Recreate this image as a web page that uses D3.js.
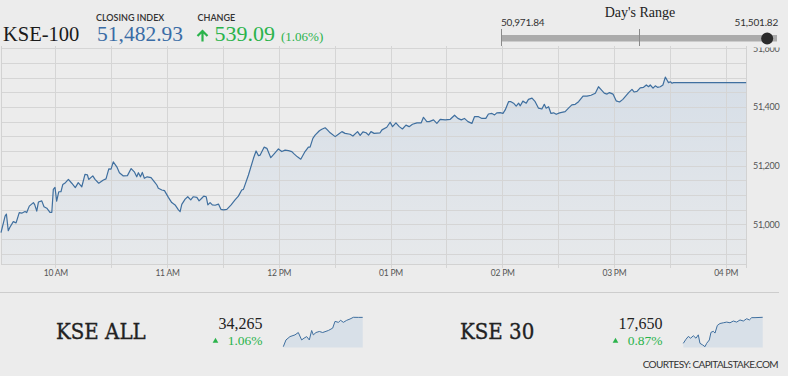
<!DOCTYPE html>
<html>
<head>
<meta charset="utf-8">
<script src="https://cdn.jsdelivr.net/npm/d3@7"></script>
<style>
  body { margin: 0; background: #ececec; }
  svg { display: block; }
</style>
</head>
<body>
<div id="graphic"></div>
<script>
// minutes after the 09:30 open, KSE-100 level
const mins = [0.8, 3.0, 3.7, 4.7, 5.6, 7.4, 8.9, 10.6, 11.9, 13.7, 14.6, 16.0, 18.2, 18.9, 20.0, 20.9, 22.7, 23.9, 25.4, 27.1,
  28.1, 28.9, 29.8, 30.7, 31.8, 33.0, 34.0, 35.4, 37.0, 38.8, 40.7, 42.3, 44.2, 45.9, 47.2, 47.9, 50.1, 51.3, 53.3, 55.8,
  57.2, 58.7, 59.9, 61.1, 63.0, 64.4, 66.5, 68.7, 70.7, 72.4, 73.7, 74.6, 75.7, 76.7, 77.8, 79.3, 81.4, 83.2, 84.5, 85.3,
  87.2, 88.6, 90.7, 92.5, 94.3, 96.1, 97.0, 97.9, 99.7, 101.1, 102.7, 104.1, 106.0, 107.2, 108.6, 109.7, 111.0, 111.9, 113.1, 114.3,
  115.8, 117.6, 118.9, 120.3, 122.1, 124.4, 126.5, 128.3, 130.1, 131.0, 133.7, 136.4, 137.8, 139.1, 140.0, 142.1, 143.6, 145.7, 147.5, 149.8,
  151.6, 153.4, 155.2, 157.0, 158.2, 160.0, 161.8, 164.1, 165.9, 166.8, 168.3, 169.5, 171.8, 173.1, 174.9, 176.1, 177.6, 180.3, 182.0, 183.9,
  185.6, 188.3, 189.8, 192.3, 193.7, 195.2, 196.9, 198.2, 199.5, 201.2, 204.4, 205.4, 208.0, 209.8, 211.1, 212.9, 214.7, 216.4, 218.3, 220.0,
  221.8, 224.2, 226.5, 227.7, 229.5, 230.8, 233.1, 234.9, 236.7, 239.4, 242.1, 244.4, 246.2, 248.0, 249.7, 251.6, 253.7, 255.1, 257.3, 259.1,
  261.2, 262.6, 264.5, 265.9, 267.1, 268.9, 270.4, 271.6, 273.4, 274.7, 276.1, 277.5, 278.8, 279.7, 281.1, 282.9, 284.1, 286.0, 287.7, 289.5,
  291.3, 292.6, 293.6, 294.9, 296.2, 297.6, 299.0, 300.8, 303.8, 305.6, 307.4, 309.2, 311.0, 313.4, 315.5, 317.7, 320.0, 321.7, 323.0, 324.8,
  326.3, 327.6, 329.5, 331.2, 333.0, 334.8, 337.9, 339.7, 340.9, 342.4, 344.1, 345.9, 347.4, 348.6, 349.5, 351.0, 352.2, 353.4, 354.9, 356.3,
  357.6, 358.5, 359.3, 360.3, 361.2, 362.0, 401.0];
const kse100 = [50971.8, 51028, 51035, 50978, 50990, 51009, 51005, 51040, 51038, 51044, 51040, 51062, 51074, 51067, 51045, 51076, 51080, 51060, 51055, 51041,
  51041, 51119, 51126, 51079, 51111, 51111, 51136, 51142, 51153, 51140, 51125, 51142, 51128, 51170, 51169, 51153, 51165, 51153, 51140, 51151,
  51155, 51189, 51188, 51213, 51196, 51176, 51165, 51166, 51190, 51179, 51162, 51176, 51162, 51177, 51157, 51162, 51159, 51145, 51134, 51123,
  51117, 51115, 51092, 51074, 51066, 51049, 51043, 51068, 51086, 51094, 51083, 51094, 51092, 51080, 51089, 51096, 51094, 51066, 51074, 51066,
  51065, 51069, 51051, 51049, 51051, 51066, 51083, 51096, 51117, 51119, 51168, 51225, 51250, 51234, 51236, 51263, 51259, 51227, 51240, 51257,
  51248, 51253, 51251, 51248, 51240, 51230, 51222, 51248, 51263, 51263, 51293, 51304, 51319, 51324, 51329, 51322, 51312, 51299, 51307, 51316,
  51310, 51307, 51301, 51316, 51303, 51315, 51312, 51304, 51316, 51310, 51312, 51322, 51331, 51348, 51333, 51346, 51333, 51325, 51338, 51333,
  51341, 51346, 51346, 51365, 51350, 51350, 51356, 51344, 51358, 51356, 51358, 51372, 51361, 51356, 51361, 51350, 51344, 51367, 51367, 51361,
  51361, 51376, 51378, 51373, 51380, 51381, 51378, 51390, 51418, 51418, 51413, 51403, 51413, 51404, 51420, 51413, 51426, 51430, 51418, 51396,
  51393, 51409, 51396, 51401, 51378, 51380, 51375, 51380, 51384, 51396, 51407, 51409, 51418, 51437, 51437, 51440, 51447, 51469, 51460, 51447,
  51444, 51449, 51444, 51421, 51417, 51426, 51449, 51460, 51451, 51453, 51465, 51467, 51475, 51469, 51475, 51464, 51472, 51467, 51469, 51475,
  51501.8, 51492, 51483, 51486, 51481, 51482.93, 51482.93];

const yTicks = [51000, 51200, 51400, 51600];

// sparklines (same minutes-after-open base)
const kseAllMins = [0, 13.5, 33.7, 59, 75.8, 92.7, 104.5, 118, 131.4, 143.2, 151.6, 165.1, 182, 198.8, 227.5, 249.4, 261.2, 278, 289.8, 303.3, 320.1, 337, 353.8, 379, 401];
const kseAllVals = [33905, 33988, 34029, 34050, 34079, 33988, 34009, 34029, 33988, 34104, 34050, 34079, 34092, 34079, 34104, 34133, 34216, 34204, 34229, 34204, 34229, 34245, 34266, 34265, 34265];
const kse30Mins = [0, 13.5, 25.3, 37.1, 50.5, 64, 75.8, 84.2, 97.7, 109.5, 118, 131.4, 139.8, 151.6, 160.1, 171.9, 185.3, 202.2, 219, 235.9, 252.7, 269.6, 286.4, 303.3, 320.1, 333.6, 345.4, 362.2, 401];
const kse30Vals = [17503, 17526, 17542, 17532, 17546, 17532, 17551, 17503, 17494, 17484, 17503, 17522, 17565, 17571, 17561, 17604, 17615, 17619, 17623, 17619, 17629, 17623, 17635, 17629, 17642, 17635, 17648, 17648, 17650];

const dayLow = 50971.84, dayHigh = 51501.82, closeIdx = 51482.93;

const open = new Date(2017, 0, 2, 9, 30).getTime();
const toDate = m => new Date(open + m * 60000);

const W = 788, H = 376;
const serif = "'Liberation Serif', serif";
const sans = "Lato, 'Open Sans', sans-serif";
const blueLine = "#3f6f9f";

const svg = d3.select("#graphic").append("svg")
    .attr("width", W)
    .attr("height", H);

const defs = svg.append("defs");
const grad = defs.append("linearGradient")
    .attr("id", "areaGrad")
    .attr("x1", 0).attr("y1", 0).attr("x2", 0).attr("y2", 1);
grad.append("stop").attr("offset", "0%").attr("stop-color", "#d6dee7");
grad.append("stop").attr("offset", "100%").attr("stop-color", "#e7e9eb");

// clip is in the axis group's own coords (group sits at x=747)
defs.append("clipPath").attr("id", "yclip")
    .append("rect").attr("x", -5).attr("y", 47.5).attr("width", 45).attr("height", 240);

// ---------- main chart ----------
const plotTop = 46, plotBottom = 264;
const x = d3.scaleTime()
    .domain([toDate(0.8), toDate(401.2)])
    .range([1, 746.5]);
const y = d3.scaleLinear()
    .domain([50864.7, 51607.9])
    .range([plotBottom, plotTop]);

const data = mins.map((m, i) => ({t: toDate(m), v: kse100[i]}));

const area = d3.area()
    .x(d => x(d.t))
    .y0(plotBottom)
    .y1(d => y(d.v));
const line = d3.line()
    .x(d => x(d.t))
    .y(d => y(d.v));

svg.append("path")
    .datum(data)
    .attr("d", area)
    .attr("fill", "url(#areaGrad)");

const grid = svg.append("g");
// horizontal grid every 50 points
grid.selectAll("line.h")
    .data(d3.range(50900, 51601, 50))
    .join("line")
    .attr("x1", 1).attr("x2", 746.5)
    .attr("y1", d => Math.round(y(d)) + 0.5)
    .attr("y2", d => Math.round(y(d)) + 0.5)
    .attr("stroke", "#d5d5d5");

// vertical grid every half hour
grid.selectAll("line.v")
    .data(d3.timeMinute.every(30).range(toDate(30), toDate(391)))
    .join("line")
    .attr("x1", d => Math.round(x(d)) + 0.5)
    .attr("x2", d => Math.round(x(d)) + 0.5)
    .attr("y1", plotTop).attr("y2", 268)
    .attr("stroke", "#d5d5d5");

// frame
grid.append("line").attr("x1", 1.5).attr("x2", 1.5).attr("y1", plotTop).attr("y2", plotBottom).attr("stroke", "#d2d2d2");
grid.append("line").attr("x1", 746.5).attr("x2", 746.5).attr("y1", plotTop).attr("y2", 268).attr("stroke", "#d2d2d2");
grid.append("line").attr("x1", 1).attr("x2", 746.5).attr("y1", plotBottom + 0.5).attr("y2", plotBottom + 0.5).attr("stroke", "#d2d2d2");

svg.append("path")
    .datum(data)
    .attr("d", line)
    .attr("fill", "none")
    .attr("stroke", blueLine)
    .attr("stroke-width", 1.2)
    .attr("stroke-linejoin", "round");

// x axis labels
const xAxis = d3.axisBottom(x)
    .tickValues(d3.timeHour.range(toDate(30), toDate(391)))
    .tickFormat(d3.timeFormat("%I %p"))
    .tickSize(0)
    .tickPadding(6);
const gx = svg.append("g")
    .attr("transform", "translate(0," + 264 + ")")
    .call(xAxis);
gx.select(".domain").remove();
gx.selectAll("text")
    .attr("font-family", sans)
    .attr("font-size", 8.5)
    .attr("letter-spacing", -0.2)
    .attr("fill", "#555");

// y axis labels
const yAxis = d3.axisRight(y)
    .tickValues(yTicks)
    .tickFormat(d3.format(","))
    .tickSize(0)
    .tickPadding(6);
const gy = svg.append("g")
    .attr("transform", "translate(747,0)")
    .attr("clip-path", "url(#yclip)")
    .call(yAxis);
gy.select(".domain").remove();
gy.selectAll("text")
    .attr("font-family", sans)
    .attr("font-size", 9)
    .attr("letter-spacing", -0.3)
    .attr("fill", "#555");

// ---------- header ----------
const head = svg.append("g");
head.append("text")
    .attr("x", 3).attr("y", 41)
    .attr("font-family", serif).attr("font-size", 20.5)
    .attr("fill", "#1a1a1a")
    .text("KSE-100");

head.append("text")
    .attr("x", 96).attr("y", 20.5)
    .attr("font-family", sans).attr("font-size", 9).attr("font-weight", 600)
    .attr("fill", "#333")
    .text("CLOSING INDEX");
head.append("text")
    .attr("x", 97).attr("y", 41)
    .attr("font-family", serif).attr("font-size", 21.5)
    .attr("fill", "#3a6ca6")
    .text(d3.format(",.2f")(closeIdx));

head.append("text")
    .attr("x", 197.5).attr("y", 20.5)
    .attr("font-family", sans).attr("font-size", 9).attr("font-weight", 600)
    .attr("fill", "#333")
    .text("CHANGE");
head.append("path")
    .attr("d", "M202.5,41.5 V31.5 M197.5,36 L202.5,31 L207.5,36")
    .attr("fill", "none")
    .attr("stroke", "#2ab34b")
    .attr("stroke-width", 2.2);
head.append("text")
    .attr("x", 214.5).attr("y", 41)
    .attr("font-family", serif).attr("font-size", 22)
    .attr("fill", "#2ab34b")
    .text("539.09");
head.append("text")
    .attr("x", 281).attr("y", 41)
    .attr("font-family", serif).attr("font-size", 13)
    .attr("fill", "#2ab34b")
    .text("(1.06%)");

// day's range
const r = d3.scaleLinear().domain([dayLow, dayHigh]).range([501, 777]);
const rg = svg.append("g");
rg.append("text")
    .attr("x", 640).attr("y", 17)
    .attr("text-anchor", "middle")
    .attr("font-family", serif).attr("font-size", 14)
    .attr("fill", "#222")
    .text("Day's Range");
rg.append("text")
    .attr("x", r(dayLow)).attr("y", 25.5)
    .attr("font-family", sans).attr("font-size", 10)
    .attr("letter-spacing", -0.2)
    .attr("fill", "#333")
    .text(d3.format(",.2f")(dayLow));
rg.append("text")
    .attr("x", 778).attr("y", 25.5)
    .attr("text-anchor", "end")
    .attr("font-family", sans).attr("font-size", 10)
    .attr("letter-spacing", -0.2)
    .attr("fill", "#333")
    .text(d3.format(",.2f")(dayHigh));
rg.append("rect")
    .attr("x", r(dayLow)).attr("y", 35)
    .attr("width", r(dayHigh) - r(dayLow)).attr("height", 6.5)
    .attr("fill", "#ababab");
rg.selectAll("line.tick")
    .data([dayLow, (dayLow + dayHigh) / 2])
    .join("line")
    .attr("x1", d => Math.round(r(d)) + 0.5)
    .attr("x2", d => Math.round(r(d)) + 0.5)
    .attr("y1", 29).attr("y2", 46)
    .attr("stroke", "#8a8a8a");
rg.append("circle")
    .attr("cx", r(closeIdx)).attr("cy", 38.5).attr("r", 6)
    .attr("fill", "#2b2b2b");

// ---------- bottom panel ----------
svg.append("line")
    .attr("x1", 0).attr("x2", 779)
    .attr("y1", 292.5).attr("y2", 292.5)
    .attr("stroke", "#cdcdcd");

const panels = [
  {name: "KSE ALL", value: "34,265", pct: "1.06%", nameX: 56, numX: 262.5, sx: [283.3, 362.7], m: kseAllMins, v: kseAllVals},
  {name: "KSE 30", value: "17,650", pct: "0.87%", nameX: 460, numX: 662.5, sx: [683.3, 762.7], m: kse30Mins, v: kse30Vals}
];

panels.forEach(p => {
  const g = svg.append("g");
  g.append("text")
      .attr("x", p.nameX).attr("y", 339)
      .attr("font-family", "'DejaVu Serif Condensed', 'DejaVu Serif', serif")
      .attr("font-size", 22)
      .attr("fill", "#222")
      .attr("stroke", "#222").attr("stroke-width", 0.35)
      .text(p.name);
  g.append("text")
      .attr("x", p.numX).attr("y", 329)
      .attr("text-anchor", "end")
      .attr("font-family", serif).attr("font-size", 16)
      .attr("fill", "#222")
      .text(p.value);
  g.append("text")
      .attr("x", p.numX).attr("y", 344.5)
      .attr("text-anchor", "end")
      .attr("font-family", serif).attr("font-size", 13.5)
      .attr("fill", "#2ab34b")
      .text(p.pct);
  g.append("path")
      .attr("d", d3.symbol(d3.symbolTriangle, 14)())
      .attr("transform", "translate(" + (p.numX - 47) + ",341)")
      .attr("fill", "#2ab34b");

  const sxs = d3.scaleLinear().domain([0, 401]).range(p.sx);
  const sys = d3.scaleLinear().domain(d3.extent(p.v)).range([346.7, 317.3]);
  const sd = p.m.map((m, i) => ({m: m, v: p.v[i]}));
  g.append("path")
      .datum(sd)
      .attr("d", d3.area().x(d => sxs(d.m)).y0(347.5).y1(d => sys(d.v)))
      .attr("fill", "#d8e0e8");
  g.append("path")
      .datum(sd)
      .attr("d", d3.line().x(d => sxs(d.m)).y(d => sys(d.v)))
      .attr("fill", "none")
      .attr("stroke", blueLine)
      .attr("stroke-width", 1);
});

svg.append("text")
    .attr("x", 778).attr("y", 367.5)
    .attr("text-anchor", "end")
    .attr("font-family", sans).attr("font-size", 10)
    .attr("letter-spacing", -0.6)
    .attr("fill", "#333")
    .text("COURTESY: CAPITALSTAKE.COM");
</script>
</body>
</html>
